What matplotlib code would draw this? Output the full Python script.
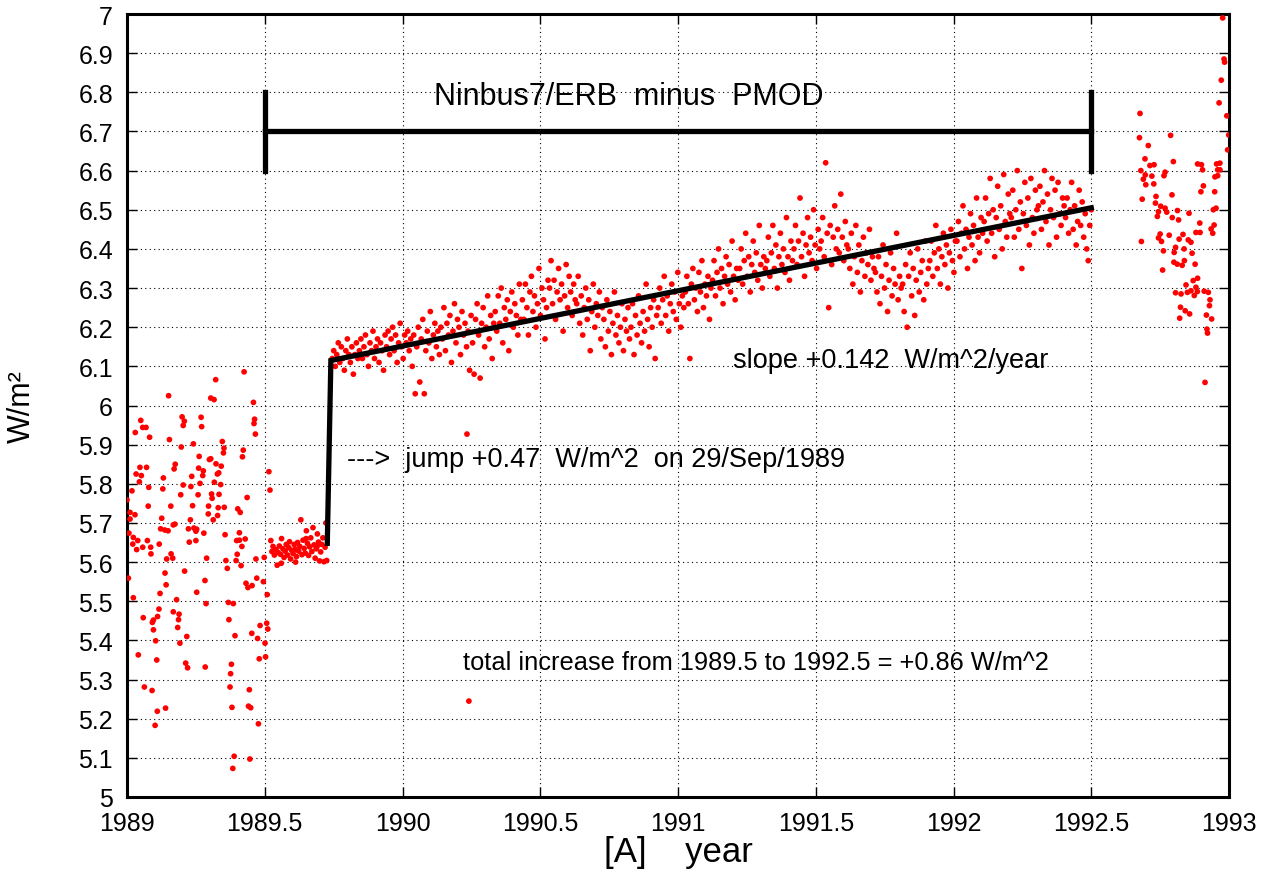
import numpy as np
import matplotlib
matplotlib.use("Agg")
import matplotlib.pyplot as plt

plt.rcParams['font.family'] = ['Liberation Sans', 'DejaVu Sans']

# --- data ---
# early, noisy part 1989.0 - 1989.5
early_x = [1989.425, 1989.322, 1989.151, 1989.304, 1989.316, 1989.459, 1989.050, 1989.200, 1989.208, 1989.204,
           1989.269, 1989.271, 1989.057, 1989.069, 1989.030, 1989.082, 1989.154, 1989.463, 1989.461, 1989.466,
           1989.346, 1989.352, 1989.350, 1989.422, 1989.419, 1989.197, 1989.241, 1989.262, 1989.299, 1989.304,
           1989.323, 1989.342, 1989.333, 1989.328, 1989.175, 1989.171, 1989.260, 1989.277, 1989.275, 1989.047,
           1989.071, 1989.033, 1989.052, 1989.045, 1989.132, 1989.235, 1989.515, 1989.519, 1989.018, 1989.079,
           1989.130, 1989.204, 1989.232, 1989.265, 1989.317, 1989.340, 1989.195, 1989.258, 1989.307, 1989.309,
           1989.334, 1989.436, 1989.000, 1989.077, 1989.159, 1989.238, 1989.296, 1989.331, 1989.353, 1989.402,
           1989.411, 1989.011, 1989.029, 1989.011, 1989.126, 1989.230, 1989.313, 1989.329, 1989.295, 1989.174,
           1989.168, 1989.122, 1989.137, 1989.149, 1989.223, 1989.243, 1989.250, 1989.253, 1989.279, 1989.356,
           1989.408, 1989.398, 1989.408, 1989.429, 1989.417, 1989.007, 1989.023, 1989.021, 1989.039, 1989.035,
           1989.074, 1989.086, 1989.087, 1989.057, 1989.117, 1989.226, 1989.250, 1989.160, 1989.166, 1989.144,
           1989.289, 1989.359, 1989.364, 1989.396, 1989.400, 1989.414, 1989.468, 1989.498, 1989.005, 1989.138,
           1989.142, 1989.209, 1989.283, 1989.432, 1989.439, 1989.454, 1989.471, 1989.495, 1989.023, 1989.120,
           1989.253, 1989.509, 1989.180, 1989.287, 1989.368, 1989.386, 1989.116, 1989.111, 1989.096, 1989.092,
           1989.168, 1989.189, 1989.187, 1989.184, 1989.059, 1989.370, 1989.096, 1989.104, 1989.192, 1989.217,
           1989.392, 1989.453, 1989.474, 1989.483, 1989.507, 1989.511, 1989.501, 1989.041, 1989.108, 1989.213,
           1989.220, 1989.284, 1989.379, 1989.376, 1989.480, 1989.503, 1989.063, 1989.091, 1989.374, 1989.444,
           1989.110, 1989.140, 1989.102, 1989.381, 1989.441, 1989.449, 1989.477, 1989.389, 1989.446, 1989.384]
early_y = [6.086, 6.066, 6.025, 6.019, 6.015, 6.008, 5.962, 5.971, 5.960, 5.949,
           5.970, 5.946, 5.944, 5.944, 5.931, 5.919, 5.913, 5.965, 5.954, 5.927,
           5.908, 5.891, 5.879, 5.886, 5.869, 5.894, 5.902, 5.870, 5.862, 5.864,
           5.851, 5.845, 5.828, 5.825, 5.850, 5.838, 5.840, 5.833, 5.821, 5.842,
           5.842, 5.825, 5.821, 5.805, 5.815, 5.819, 5.831, 5.784, 5.782, 5.791,
           5.787, 5.797, 5.793, 5.801, 5.804, 5.798, 5.772, 5.772, 5.774, 5.763,
           5.773, 5.765, 5.759, 5.743, 5.743, 5.744, 5.743, 5.739, 5.740, 5.736,
           5.727, 5.727, 5.721, 5.710, 5.712, 5.708, 5.708, 5.719, 5.723, 5.697,
           5.695, 5.685, 5.682, 5.680, 5.685, 5.687, 5.679, 5.684, 5.674, 5.670,
           5.675, 5.655, 5.656, 5.659, 5.640, 5.674, 5.663, 5.646, 5.655, 5.632,
           5.655, 5.638, 5.621, 5.638, 5.646, 5.651, 5.655, 5.621, 5.610, 5.608,
           5.610, 5.604, 5.584, 5.604, 5.620, 5.591, 5.608, 5.612, 5.559, 5.572,
           5.542, 5.577, 5.553, 5.546, 5.535, 5.540, 5.559, 5.550, 5.509, 5.520,
           5.523, 5.517, 5.504, 5.494, 5.497, 5.494, 5.480, 5.461, 5.452, 5.446,
           5.473, 5.467, 5.453, 5.433, 5.458, 5.453, 5.427, 5.399, 5.393, 5.410,
           5.412, 5.418, 5.405, 5.438, 5.444, 5.429, 5.393, 5.363, 5.350, 5.342,
           5.330, 5.332, 5.339, 5.315, 5.353, 5.358, 5.281, 5.272, 5.281, 5.274,
           5.219, 5.227, 5.183, 5.229, 5.232, 5.228, 5.187, 5.104, 5.097, 5.073]

# quiet cluster before the jump
cluster_x = [1989.522, 1989.526, 1989.530, 1989.535, 1989.540, 1989.545, 1989.548, 1989.553, 1989.557, 1989.561,
             1989.566, 1989.570, 1989.574, 1989.578, 1989.583, 1989.587, 1989.590, 1989.594, 1989.598, 1989.603,
             1989.607, 1989.611, 1989.615, 1989.619, 1989.623, 1989.627, 1989.631, 1989.635, 1989.639, 1989.643,
             1989.647, 1989.651, 1989.655, 1989.659, 1989.663, 1989.667, 1989.671, 1989.675, 1989.679, 1989.683,
             1989.687, 1989.691, 1989.695, 1989.699, 1989.703, 1989.707, 1989.711, 1989.715, 1989.719, 1989.722,
             1989.725, 1989.612, 1989.560, 1989.650, 1989.690]
cluster_y = [5.655, 5.627, 5.640, 5.618, 5.632, 5.592, 5.625, 5.641, 5.620, 5.660,
             5.634, 5.612, 5.628, 5.645, 5.618, 5.637, 5.652, 5.608, 5.630, 5.622,
             5.645, 5.633, 5.614, 5.650, 5.628, 5.640, 5.708, 5.619, 5.656, 5.635,
             5.623, 5.680, 5.648, 5.617, 5.639, 5.662, 5.627, 5.688, 5.644, 5.610,
             5.634, 5.672, 5.651, 5.603, 5.626, 5.645, 5.662, 5.601, 5.638, 5.700,
             5.604, 5.600, 5.597, 5.660, 5.640]

# main band after the jump, every second day from 1989.745 to 1992.5
main_start, main_end = 1989.745, 1992.5
main_y = [
    6.12, 6.14, 6.10, 6.13, 6.16, 6.11, 6.15, 6.12, 6.09, 6.14, 6.17, 6.13, 6.11, 6.15, 6.08, 6.13, 6.16, 6.12,
    6.14, 6.17, 6.12, 6.15, 6.18, 6.13, 6.10, 6.16, 6.14, 6.19, 6.12, 6.15, 6.17, 6.11, 6.16, 6.14, 6.09, 6.18,
    6.15, 6.19, 6.13, 6.17, 6.20, 6.14, 6.18, 6.11, 6.16, 6.21, 6.15, 6.12, 6.18, 6.16, 6.19, 6.14, 6.17, 6.10,
    6.18, 6.03, 6.15, 6.20, 6.06, 6.17, 6.22, 6.03, 6.14, 6.19, 6.16, 6.24, 6.12, 6.18, 6.21, 6.15, 6.19, 6.13,
    6.20, 6.17, 6.25, 6.14, 6.21, 6.18, 6.23, 6.11, 6.19, 6.26, 6.16, 6.22, 6.20, 6.13, 6.24, 6.18, 6.21, 6.15,
    6.19, 6.09, 6.23, 6.16, 6.08, 6.22, 6.26, 6.18, 6.07, 6.21, 6.25, 6.15, 6.20, 6.28, 6.17, 6.23, 6.12, 6.21,
    6.24, 6.19, 6.28, 6.21, 6.30, 6.16, 6.25, 6.22, 6.27, 6.14, 6.24, 6.29, 6.20, 6.26, 6.23, 6.18, 6.31, 6.22,
    6.27, 6.22, 6.31, 6.25, 6.18, 6.29, 6.33, 6.24, 6.28, 6.20, 6.26, 6.35, 6.23, 6.30, 6.27, 6.17, 6.25, 6.32,
    6.30, 6.37, 6.26, 6.32, 6.22, 6.29, 6.35, 6.27, 6.31, 6.19, 6.28, 6.36, 6.25, 6.33, 6.29, 6.23, 6.31, 6.27,
    6.26, 6.33, 6.21, 6.28, 6.18, 6.25, 6.30, 6.22, 6.27, 6.14, 6.24, 6.31, 6.20, 6.26, 6.23, 6.29, 6.17, 6.25,
    6.22, 6.15, 6.27, 6.19, 6.24, 6.13, 6.21, 6.29, 6.18, 6.23, 6.16, 6.20, 6.26, 6.14, 6.22, 6.19, 6.25, 6.17,
    6.20, 6.26, 6.13, 6.23, 6.18, 6.28, 6.21, 6.16, 6.24, 6.19, 6.31, 6.22, 6.15, 6.25, 6.20, 6.27, 6.12, 6.23,
    6.25, 6.30, 6.21, 6.27, 6.33, 6.23, 6.28, 6.19, 6.26, 6.31, 6.24, 6.29, 6.22, 6.34, 6.26, 6.20, 6.28, 6.25,
    6.29, 6.33, 6.26, 6.12, 6.31, 6.35, 6.27, 6.30, 6.24, 6.34, 6.29, 6.37, 6.25, 6.31, 6.28, 6.33, 6.22, 6.30,
    6.32, 6.37, 6.28, 6.34, 6.40, 6.30, 6.35, 6.26, 6.33, 6.38, 6.31, 6.36, 6.29, 6.42, 6.33, 6.27, 6.35, 6.32,
    6.35, 6.40, 6.31, 6.37, 6.44, 6.33, 6.38, 6.29, 6.36, 6.42, 6.34, 6.39, 6.32, 6.46, 6.36, 6.30, 6.38, 6.35,
    6.37, 6.43, 6.33, 6.39, 6.46, 6.35, 6.41, 6.30, 6.38, 6.44, 6.36, 6.40, 6.34, 6.48, 6.38, 6.32, 6.42, 6.37,
    6.40, 6.46, 6.36, 6.42, 6.53, 6.38, 6.44, 6.33, 6.41, 6.48, 6.39, 6.43, 6.37, 6.50, 6.41, 6.35, 6.45, 6.40,
    6.42, 6.48, 6.38, 6.62, 6.44, 6.25, 6.46, 6.36, 6.43, 6.51, 6.40, 6.45, 6.39, 6.54, 6.43, 6.37, 6.47, 6.41,
    6.40, 6.35, 6.44, 6.31, 6.38, 6.46, 6.34, 6.41, 6.29, 6.37, 6.43, 6.33, 6.39, 6.36, 6.45, 6.32, 6.38, 6.35,
    6.34, 6.29, 6.38, 6.26, 6.33, 6.41, 6.30, 6.36, 6.24, 6.32, 6.39, 6.28, 6.35, 6.31, 6.44, 6.27, 6.33, 6.30,
    6.31, 6.24, 6.36, 6.20, 6.33, 6.39, 6.28, 6.35, 6.23, 6.32, 6.40, 6.29, 6.34, 6.37, 6.27, 6.42, 6.31, 6.35,
    6.37, 6.42, 6.33, 6.39, 6.46, 6.35, 6.40, 6.31, 6.38, 6.44, 6.36, 6.41, 6.30, 6.39, 6.45, 6.37, 6.34, 6.42,
    6.42, 6.47, 6.38, 6.44, 6.51, 6.40, 6.45, 6.35, 6.43, 6.49, 6.41, 6.46, 6.37, 6.53, 6.43, 6.39, 6.48, 6.44,
    6.47, 6.53, 6.42, 6.49, 6.58, 6.44, 6.50, 6.38, 6.48, 6.56, 6.45, 6.51, 6.40, 6.59, 6.47, 6.43, 6.54, 6.49,
    6.48, 6.55, 6.43, 6.50, 6.60, 6.45, 6.52, 6.35, 6.49, 6.57, 6.46, 6.53, 6.41, 6.58, 6.48, 6.44, 6.55, 6.50,
    6.51, 6.56, 6.45, 6.52, 6.60, 6.47, 6.54, 6.41, 6.50, 6.58, 6.48, 6.55, 6.43, 6.57, 6.49, 6.46, 6.53, 6.51,
    6.48, 6.53, 6.44, 6.50, 6.57, 6.45, 6.51, 6.41, 6.47, 6.55, 6.46, 6.52, 6.43, 6.49, 6.40, 6.37, 6.46, 6.50,
]

# isolated outliers in 1990
odd_x = [1990.234, 1990.241]
odd_y = [5.927, 5.245]

# late part 1992.65 - 1993.0
late_x = [1992.677, 1992.675, 1992.707, 1992.788, 1992.695, 1992.713, 1992.728, 1992.680, 1992.696, 1992.689,
          1992.720, 1992.727, 1992.698, 1992.768, 1992.764, 1992.798, 1992.685, 1992.793, 1992.735, 1992.733,
          1992.752, 1992.768, 1992.744, 1992.740, 1992.774, 1992.794, 1992.813, 1992.817, 1992.855, 1992.682,
          1992.750, 1992.744, 1992.755, 1992.783, 1992.762, 1992.806, 1992.801, 1992.819, 1992.833, 1992.837,
          1992.852, 1992.862, 1992.866, 1992.759, 1992.800, 1992.812, 1992.830, 1992.838, 1992.877, 1992.870,
          1992.886, 1992.844, 1992.806, 1992.826, 1992.849, 1992.862, 1992.874, 1992.880, 1992.885, 1992.910,
          1992.925, 1992.931, 1992.929, 1992.824, 1992.841, 1992.857, 1992.821, 1992.918, 1992.937, 1992.920,
          1992.922, 1992.913, 1992.977, 1992.982, 1992.984, 1992.972, 1992.964, 1992.992, 1992.999, 1992.995,
          1992.886, 1992.900, 1992.904, 1992.955, 1992.967, 1992.959, 1992.967, 1992.949, 1992.959, 1992.907,
          1992.898, 1992.948, 1992.943, 1992.953, 1992.894, 1992.880, 1992.895, 1992.946, 1992.935, 1992.941]
late_y = [6.746, 6.684, 6.664, 6.690, 6.630, 6.613, 6.615, 6.600, 6.589, 6.578,
          6.586, 6.566, 6.564, 6.596, 6.587, 6.623, 6.527, 6.538, 6.534, 6.517,
          6.509, 6.504, 6.495, 6.483, 6.494, 6.480, 6.498, 6.474, 6.491, 6.419,
          6.438, 6.428, 6.419, 6.435, 6.395, 6.404, 6.391, 6.425, 6.437, 6.400,
          6.423, 6.417, 6.389, 6.346, 6.366, 6.361, 6.358, 6.370, 6.361, 6.319,
          6.325, 6.308, 6.288, 6.285, 6.289, 6.293, 6.281, 6.302, 6.291, 6.292,
          6.289, 6.270, 6.255, 6.251, 6.242, 6.234, 6.223, 6.231, 6.221, 6.195,
          6.185, 6.059, 6.990, 6.885, 6.877, 6.831, 6.773, 6.740, 6.691, 6.653,
          6.617, 6.615, 6.602, 6.617, 6.619, 6.602, 6.602, 6.584, 6.587, 6.561,
          6.546, 6.546, 6.500, 6.504, 6.466, 6.442, 6.442, 6.461, 6.451, 6.440]

# fitted step + trend
fit_x = [1989.727, 1989.740, 1992.5]
fit_y = [5.648, 6.115, 6.505]

# span bar
bar_x = [1989.5, 1992.5]
bar_y = 6.7
bar_half = 0.1

main_x = np.linspace(main_start, main_end, len(main_y))

fig = plt.figure(figsize=(12.72, 8.78), dpi=100)
ax = fig.add_axes([127 / 1272, 1 - 798 / 878, (1229 - 127) / 1272, (798 - 15) / 878])

dot = dict(s=17, c='#ff0000', edgecolors='none', zorder=3)
ax.scatter(early_x, early_y, **dot)
ax.scatter(cluster_x, cluster_y, **dot)
ax.scatter(main_x, main_y, **dot)
ax.scatter(odd_x, odd_y, **dot)
ax.scatter(late_x, late_y, **dot)

ax.plot(fit_x, fit_y, color='black', lw=3.8, zorder=4, solid_joinstyle='miter')
ax.plot(bar_x, [bar_y, bar_y], color='black', lw=3.8, zorder=4)
for bx in bar_x:
    ax.plot([bx, bx], [bar_y - bar_half, bar_y + bar_half], color='black', lw=3.8, zorder=4)

ax.set_xlim(1989, 1993)
ax.set_ylim(5, 7)
ax.set_xticks(np.arange(1989, 1993.01, 0.5))
ax.set_xticklabels(['1989', '1989.5', '1990', '1990.5', '1991', '1991.5', '1992', '1992.5', '1993'])
ax.set_yticks(np.arange(5, 7.001, 0.1))
ax.set_yticklabels(['5', '5.1', '5.2', '5.3', '5.4', '5.5', '5.6', '5.7', '5.8', '5.9', '6',
                    '6.1', '6.2', '6.3', '6.4', '6.5', '6.6', '6.7', '6.8', '6.9', '7'])
ax.grid(True, color='black', linestyle=(0, (1, 3)), linewidth=0.8)
ax.tick_params(direction='in', length=7, width=1, top=True, right=True, labelsize=18)
ax.tick_params(axis='x', pad=10)
ax.tick_params(axis='y', pad=10)
for sp in ax.spines.values():
    sp.set_linewidth(2.2)

ax.text(1990.822, 6.770, 'Ninbus7/ERB  minus  PMOD', fontsize=22, ha='center', va='baseline')
ax.text(1991.20, 6.098, 'slope +0.142  W/m^2/year', fontsize=19.5, ha='left', va='baseline')
ax.text(1989.799, 5.846, '--->  jump +0.47  W/m^2  on 29/Sep/1989', fontsize=19.5, ha='left', va='baseline')
ax.text(1990.22, 5.327, 'total increase from 1989.5 to 1992.5 = +0.86 W/m^2', fontsize=18.3,
        ha='left', va='baseline')

ax.set_xlabel('[A]    year', fontsize=25)
ax.xaxis.set_label_coords(0.5, -0.048)
ax.set_ylabel('W/m²', fontsize=22)
ax.yaxis.set_label_coords(-0.082, 0.5)

fig.savefig('out.png', dpi=100)
